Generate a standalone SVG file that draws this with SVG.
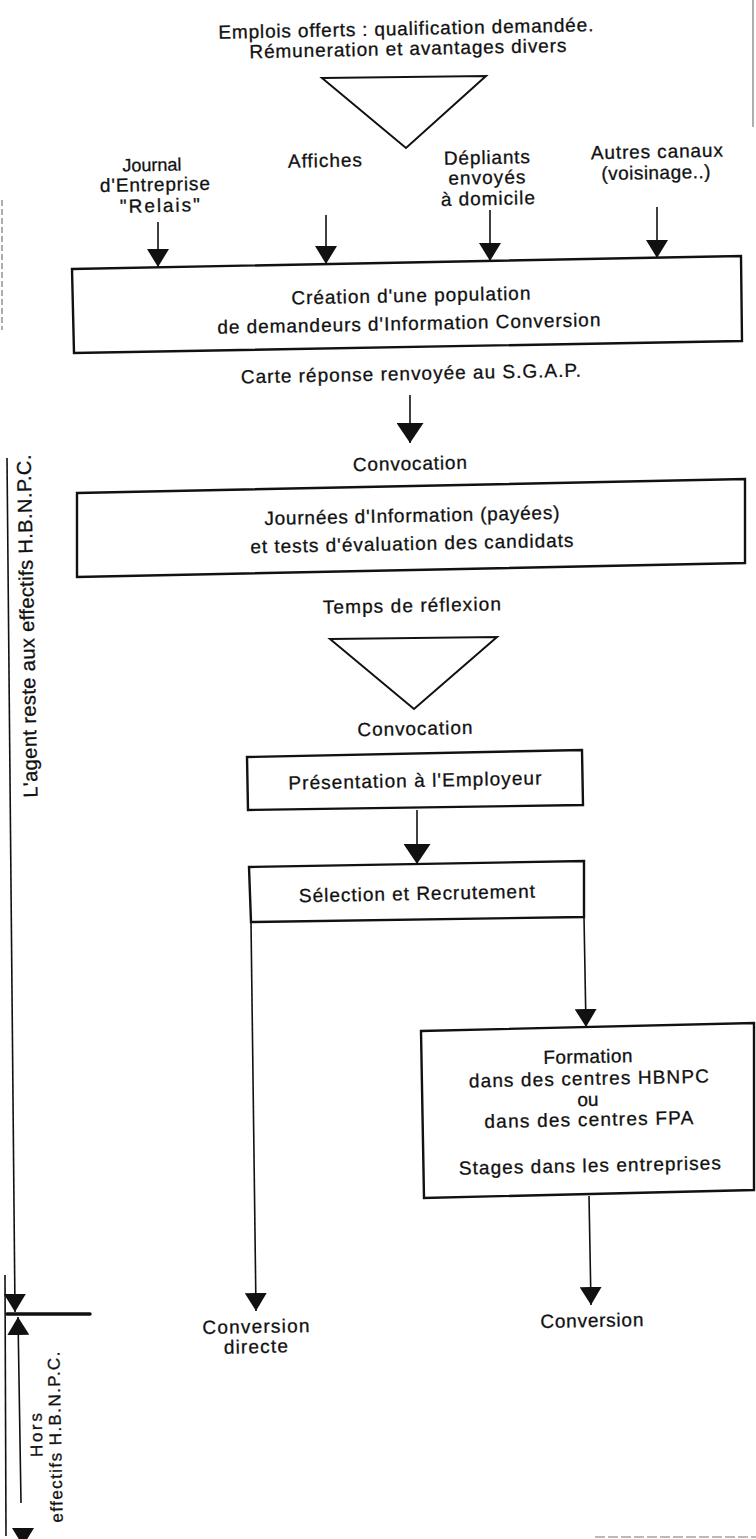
<svg xmlns="http://www.w3.org/2000/svg" width="756" height="1539" viewBox="0 0 756 1539">
<style>
text{font-family:"Liberation Sans",Arial,sans-serif;font-size:19px;fill:#111;stroke:#111;stroke-width:0.3;text-anchor:middle}
.box{fill:none;stroke:#111;stroke-width:2.4;stroke-linejoin:miter}
.tri{fill:none;stroke:#111;stroke-width:2}
.ln{fill:none;stroke:#111;stroke-width:1.6}
.big{font-size:20px}
.sm{font-size:17px}
.md{font-size:18px}
.scan{fill:none;stroke:#777;stroke-width:1.2}
</style>
<defs>
<marker id="ah" viewBox="0 0 18 22" refX="18" refY="11" markerWidth="18" markerHeight="22" markerUnits="userSpaceOnUse" orient="auto"><path d="M0,0 L18,11 L0,22 z" fill="#111"/></marker>
<marker id="ahL" viewBox="0 0 20 27" refX="20" refY="13.5" markerWidth="20" markerHeight="27" markerUnits="userSpaceOnUse" orient="auto"><path d="M0,0 L20,13.5 L0,27 z" fill="#111"/></marker>
</defs>

<g id="scan-marks">
<line class="scan" x1="753" y1="0" x2="753" y2="127"/>
<line class="scan" x1="2" y1="200" x2="2" y2="330" stroke-dasharray="6 3"/>
<line class="scan" x1="595" y1="1537" x2="756" y2="1537" stroke-dasharray="10 3"/>
</g>

<g id="title">
<text transform="rotate(-1.15 406 35)" x="406" y="35" textLength="375" lengthAdjust="spacing">Emplois offerts : qualification demandée.</text>
<text transform="rotate(-1.15 408 55)" x="408" y="55" textLength="317" lengthAdjust="spacing">Rémuneration et avantages divers</text>
</g>
<g id="triangle-offres"><polygon class="tri" points="322,78 486,76 406,148"/></g>

<g id="canal-journal">
<text class="md" transform="rotate(-1.15 152 171)" x="152" y="171">Journal</text>
<text transform="rotate(-1.15 155 191)" x="155" y="191" textLength="110" lengthAdjust="spacing">d'Entreprise</text>
<text transform="rotate(-1.15 160 212)" x="160" y="212" textLength="80" lengthAdjust="spacing">"Relais"</text>
</g>
<g id="canal-affiches">
<text transform="rotate(-1.15 325 167)" x="325" y="167" textLength="74" lengthAdjust="spacing">Affiches</text>
</g>
<g id="canal-depliants">
<text transform="rotate(-1.15 487 164)" x="487" y="164" textLength="86" lengthAdjust="spacing">Dépliants</text>
<text transform="rotate(-1.15 487 184)" x="487" y="184" textLength="77" lengthAdjust="spacing">envoyés</text>
<text transform="rotate(-1.15 488 205)" x="488" y="205" textLength="94" lengthAdjust="spacing">à domicile</text>
</g>
<g id="canal-autres">
<text transform="rotate(-1.15 657 158)" x="657" y="158" textLength="132" lengthAdjust="spacing">Autres canaux</text>
<text transform="rotate(-1.15 656 179)" x="656" y="179" textLength="109" lengthAdjust="spacing">(voisinage..)</text>
</g>

<g id="creation">
<polygon class="box" points="72,269 741,256 742,341 74,353"/>
<text transform="rotate(-1.15 411 302)" x="411" y="302" textLength="239" lengthAdjust="spacing">Création d'une population</text>
<text transform="rotate(-1.15 409 330)" x="409" y="330" textLength="383" lengthAdjust="spacing">de demandeurs d'Information Conversion</text>
</g>
<g id="carte">
<text transform="rotate(-1.15 411 380)" x="411" y="380" textLength="340" lengthAdjust="spacing">Carte réponse renvoyée au S.G.A.P.</text>
</g>
<g id="convocation1">
<text transform="rotate(-1.15 410 470)" x="410" y="470" textLength="114" lengthAdjust="spacing">Convocation</text>
</g>
<g id="journees">
<polygon class="box" points="77,493 745,479 745,563 77,577"/>
<text transform="rotate(-1.15 412 522)" x="412" y="522" textLength="295" lengthAdjust="spacing">Journées d'Information (payées)</text>
<text transform="rotate(-1.15 412 550)" x="412" y="550" textLength="323" lengthAdjust="spacing">et tests d'évaluation des candidats</text>
</g>
<g id="temps">
<text transform="rotate(-1.15 412 612)" x="412" y="612" textLength="178" lengthAdjust="spacing">Temps de réflexion</text>
</g>
<g id="triangle-reflexion"><polygon class="tri" points="330,639 497,637 414,709"/></g>
<g id="convocation2">
<text transform="rotate(-1.15 415 735)" x="415" y="735" textLength="115" lengthAdjust="spacing">Convocation</text>
</g>
<g id="presentation">
<polygon class="box" points="247,757 582,750 583,805 248,810"/>
<text transform="rotate(-1.15 415 787)" x="415" y="787" textLength="253" lengthAdjust="spacing">Présentation à l'Employeur</text>
</g>
<g id="selection">
<polygon class="box" points="249,867 584,861 584,917 251,922"/>
<text transform="rotate(-1.15 417 900)" x="417" y="900" textLength="236" lengthAdjust="spacing">Sélection et Recrutement</text>
</g>
<g id="formation">
<polygon class="box" points="421,1031 754,1023 754,1190 424,1198"/>
<text transform="rotate(-1.15 588 1063)" x="588" y="1063" textLength="89" lengthAdjust="spacing">Formation</text>
<text transform="rotate(-1.15 589 1085)" x="589" y="1085" textLength="240" lengthAdjust="spacing">dans des centres HBNPC</text>
<text transform="rotate(-1.15 588 1106)" x="588" y="1106">ou</text>
<text transform="rotate(-1.15 589 1126)" x="589" y="1126" textLength="209" lengthAdjust="spacing">dans des centres FPA</text>
<text transform="rotate(-1.15 590 1172)" x="590" y="1172" textLength="262" lengthAdjust="spacing">Stages dans les entreprises</text>
</g>
<g id="conversion-directe">
<text transform="rotate(-1.15 256 1333)" x="256" y="1333" textLength="107" lengthAdjust="spacing">Conversion</text>
<text transform="rotate(-1.15 256 1353)" x="256" y="1353" textLength="64" lengthAdjust="spacing">directe</text>
</g>
<g id="conversion">
<text transform="rotate(-1.15 592 1327)" x="592" y="1327" textLength="103" lengthAdjust="spacing">Conversion</text>
</g>

<g id="dimension-effectifs">
<text class="big" transform="rotate(-91.15 34 626)" x="34" y="626" textLength="343" lengthAdjust="spacing">L'agent reste aux effectifs H.B.N.P.C.</text>
</g>
<g id="dimension-hors">
<text class="sm" transform="rotate(-91.15 42 1435)" x="42" y="1435" textLength="44" lengthAdjust="spacing">Hors</text>
<text class="sm" transform="rotate(-91.15 61 1437)" x="61" y="1437" textLength="171" lengthAdjust="spacing">effectifs H.B.N.P.C.</text>
</g>

<g id="connectors">
<line class="ln" x1="158" y1="222" x2="158" y2="267" marker-end="url(#ah)"/>
<line class="ln" x1="326" y1="215" x2="326" y2="264" marker-end="url(#ah)"/>
<line class="ln" x1="490" y1="210" x2="490" y2="261" marker-end="url(#ah)"/>
<line class="ln" x1="657" y1="207" x2="657" y2="258" marker-end="url(#ah)"/>
<line class="ln" x1="410" y1="395" x2="410" y2="443" marker-end="url(#ahL)"/>
<line class="ln" x1="417" y1="810" x2="417" y2="864" marker-end="url(#ahL)"/>
<line class="ln" x1="251" y1="922" x2="256" y2="1311" marker-end="url(#ah)"/>
<line class="ln" x1="584" y1="917" x2="586" y2="1027" marker-end="url(#ah)"/>
<line class="ln" x1="589" y1="1196" x2="591" y2="1305" marker-end="url(#ah)"/>
<line class="ln" x1="7" y1="458" x2="15" y2="1312" marker-end="url(#ah)"/>
<line x1="7" y1="1314" x2="90" y2="1314" stroke="#111" stroke-width="3.5" stroke-linecap="round"/>
<line class="ln" x1="21" y1="1503" x2="18" y2="1317" marker-end="url(#ah)"/>
<line class="ln" x1="5" y1="1275" x2="6" y2="1536"/>
<polygon points="12,1528 34,1528 23,1546" fill="#111"/>
</g>
</svg>
